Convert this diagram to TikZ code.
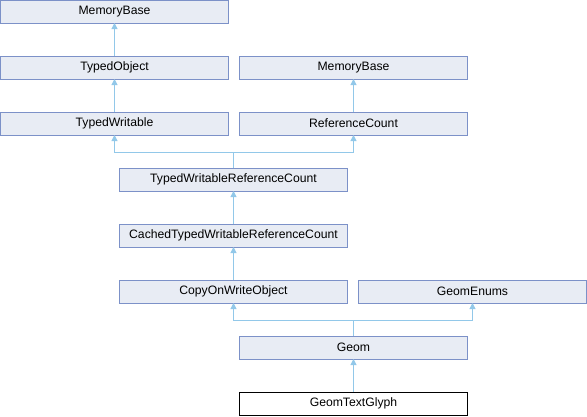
\documentclass[tikz,border=0pt]{standalone}
\usepackage{fontspec}
\setmainfont{Liberation Sans}
\usetikzlibrary{arrows.meta}
\definecolor{boxfill}{RGB}{232,236,244}
\definecolor{boxline}{RGB}{124,145,200}
\definecolor{edgecol}{RGB}{146,200,233}
\begin{document}
\begin{tikzpicture}[x=1pt,y=-1pt,
  cls/.style={draw=boxline,fill=boxfill,line width=1pt,minimum width=228pt,minimum height=23pt,inner sep=0pt,outer sep=0pt,font=\fontsize{12.2}{14}\selectfont,text=black},
  cur/.style={cls,draw=black,fill=white},
  edge/.style={draw=edgecol,line width=1pt,-{Triangle[width=6pt,length=6pt]}}]
\useasboundingbox (0,0) rectangle (587,416);
\node[cls] (mb1) at (114.5,11.5) {MemoryBase};
\node[cls] (to) at (114.5,67.5) {TypedObject};
\node[cls] (mb2) at (353.5,67.5) {MemoryBase};
\node[cls] (tw) at (114.5,123.5) {TypedWritable};
\node[cls] (rc) at (353.5,123.5) {ReferenceCount};
\node[cls] (twrc) at (233.5,179.5) {TypedWritableReferenceCount};
\node[cls] (ctwrc) at (233.5,235.5) {CachedTypedWritableReferenceCount};
\node[cls] (cow) at (233.5,291.5) {CopyOnWriteObject};
\node[cls] (ge) at (472.5,291.5) {GeomEnums};
\node[cls] (geom) at (353.5,347.5) {Geom};
\node[cur] (gtg) at (353.5,403.5) {GeomTextGlyph};
\coordinate (j1) at (233.5,152);
\coordinate (j2) at (353.5,320);
\draw[edge] (to.north) -- (mb1.south);
\draw[edge] (tw.north) -- (to.south);
\draw[edge] (rc.north) -- (mb2.south);
\draw[edge] (twrc.north) -- (j1) -| (tw.south);
\draw[edge] (j1) -| (rc.south);
\draw[edge] (ctwrc.north) -- (twrc.south);
\draw[edge] (cow.north) -- (ctwrc.south);
\draw[edge] (geom.north) -- (j2) -| (cow.south);
\draw[edge] (j2) -| (ge.south);
\draw[edge] (gtg.north) -- (geom.south);
\end{tikzpicture}
\end{document}
